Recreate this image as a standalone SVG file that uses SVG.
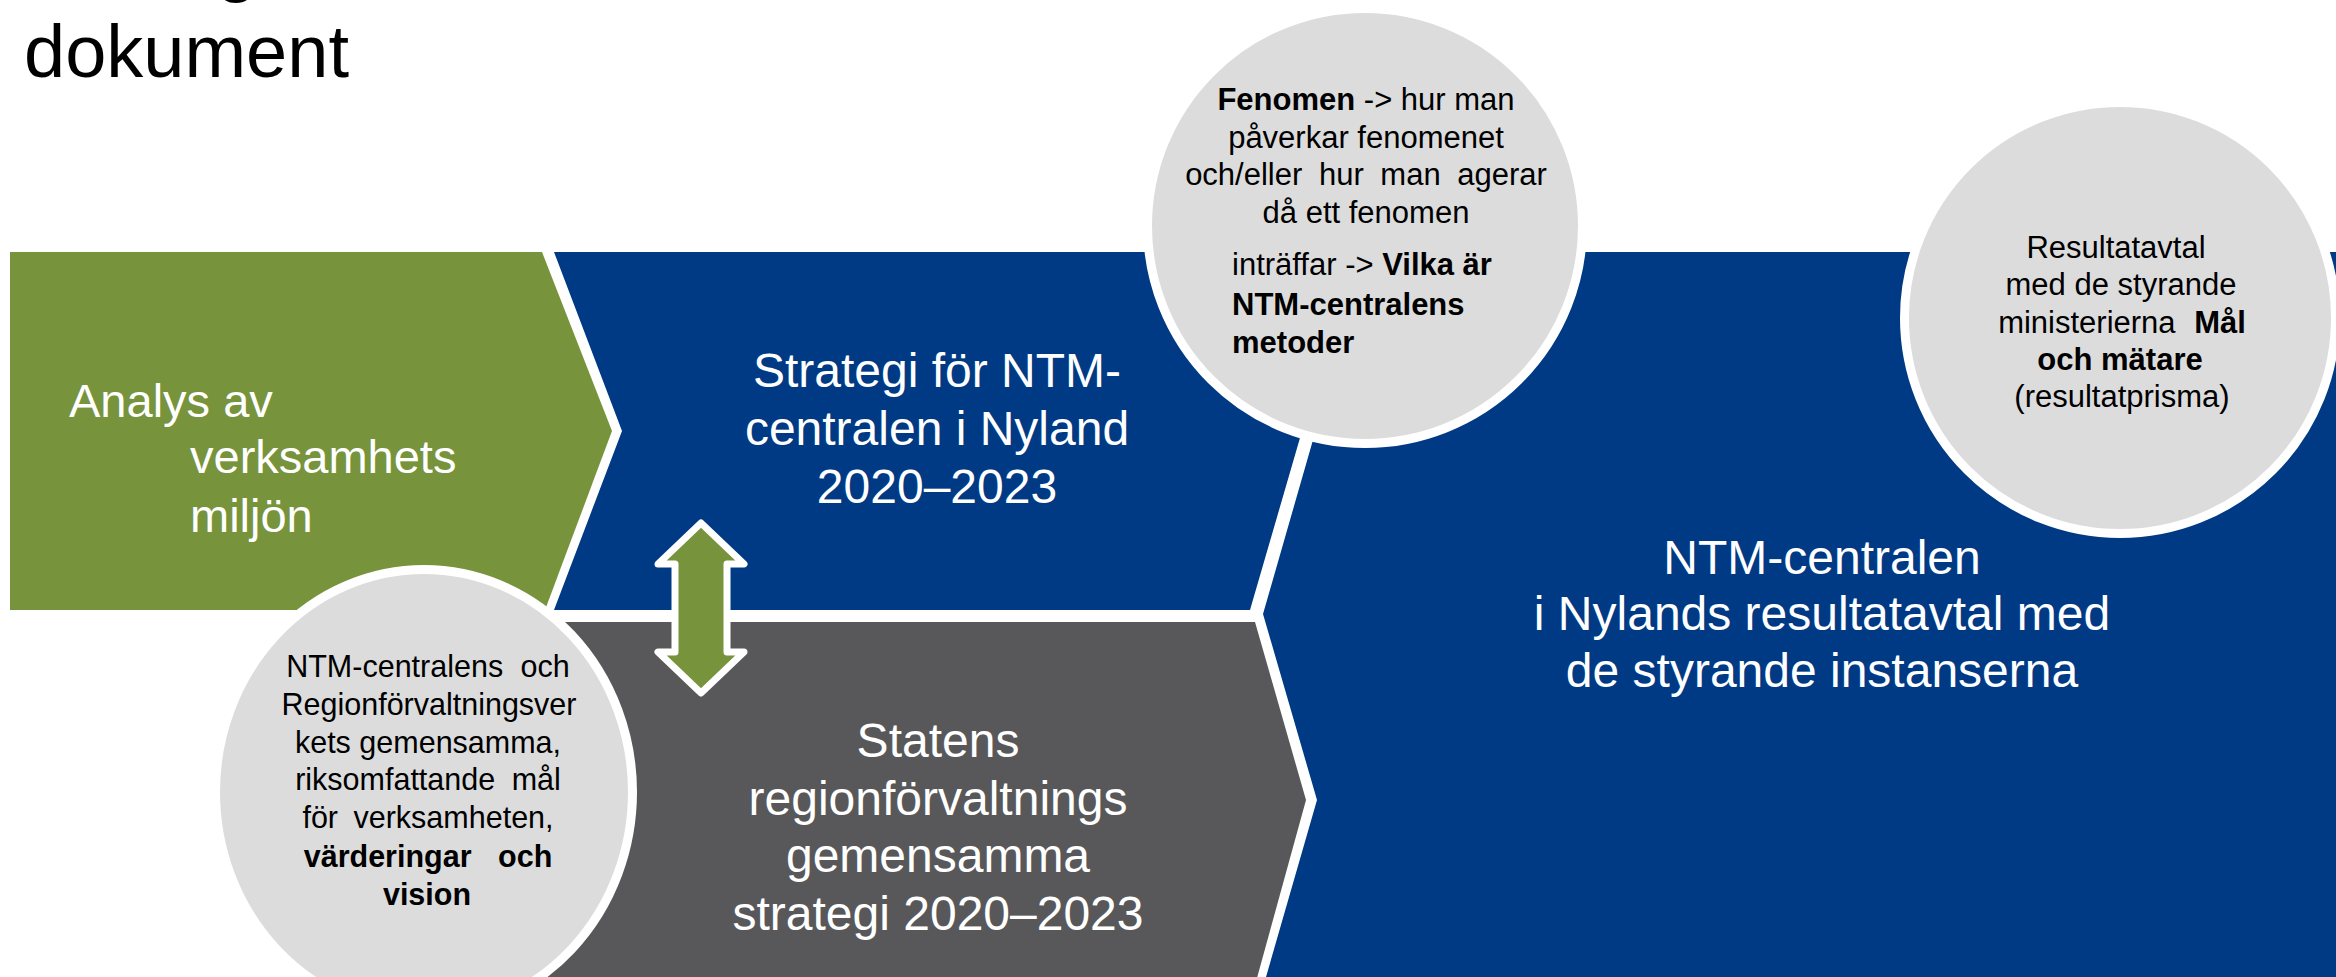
<svg xmlns="http://www.w3.org/2000/svg" width="2336" height="977" viewBox="0 0 2336 977">
<style>
text{font-family:"Liberation Sans",Arial,sans-serif}
.title{font-size:74px;fill:#000}
.big{font-size:48px;fill:#fff;text-anchor:middle}
.lbl{font-size:47px;fill:#fff}
.ct{font-size:31px;fill:#000;text-anchor:middle}
.cl{font-size:31px;fill:#000}
.lc{font-size:30.5px;fill:#000;text-anchor:middle}
.bold{font-weight:bold}
.disc{fill:#DCDCDC;stroke:#fff;stroke-width:9}
.blue{fill:#003A84}
.green{fill:#77933C}
.gray{fill:#58585A}
</style>
<rect x="0" y="0" width="2336" height="977" fill="#fff"/>
<g id="title">
<text class="title" x="216" y="-12">g</text>
<text class="title" x="24" y="77">dokument</text>
</g>
<g id="resultatavtal-node">
<polygon class="blue" points="1367,252 2336,252 2336,977 1266,977 1317,800 1263,614"/>
<text class="big"><tspan x="1822" y="574">NTM-centralen</tspan><tspan x="1822" y="630">i Nylands resultatavtal med</tspan><tspan x="1822" y="687">de styrande instanserna</tspan></text>
</g>
<g id="analys-node">
<polygon class="green" points="10,252 542,252 612,431 545,610 10,610"/>
<text class="lbl"><tspan x="69" y="417">Analys av</tspan><tspan x="190" y="473">verksamhets</tspan><tspan x="190" y="532">miljön</tspan></text>
</g>
<g id="strategi-node">
<polygon class="blue" points="554,252 1250,252 1302,431 1250,610 554,610 622,431"/>
<text class="big"><tspan x="937" y="387">Strategi för NTM-</tspan><tspan x="937" y="445">centralen i Nyland</tspan><tspan x="937" y="503">2020–2023</tspan></text>
</g>
<g id="statens-node">
<polygon class="gray" points="545,622 1255,622 1306,800 1257,978 545,978"/>
<text class="big"><tspan x="938" y="757">Statens</tspan><tspan x="938" y="815">regionförvaltnings</tspan><tspan x="938" y="872">gemensamma</tspan><tspan x="938" y="930">strategi 2020–2023</tspan></text>
</g>
<g id="connectors">
<path d="M701,523 L744,564 L727,564 L727,652 L744,652 L701,693 L658,652 L675,652 L675,564 L658,564 Z" class="green" stroke="#fff" stroke-width="7" stroke-linejoin="round"/>
</g>
<g id="fenomen-node">
<circle class="disc" cx="1365" cy="226" r="217.5"/>
<text class="ct" x="1366" y="110"><tspan class="bold">Fenomen</tspan> -&gt; hur man</text>
<text class="ct" x="1366" y="148">påverkar fenomenet</text>
<text class="ct" x="1366" y="185" word-spacing="8">och/eller hur man agerar</text>
<text class="ct" x="1366" y="223">då ett fenomen</text>
<text class="cl" x="1232" y="275">inträffar -&gt; <tspan class="bold">Vilka är</tspan></text>
<text class="cl bold" x="1232" y="315">NTM-centralens</text>
<text class="cl bold" x="1232" y="353">metoder</text>
</g>
<g id="resultat-circle-node">
<circle class="disc" cx="2120" cy="318" r="215.5"/>
<text class="ct" x="2116" y="258">Resultatavtal</text>
<text class="ct" x="2121" y="295">med de styrande</text>
<text class="ct" x="2122" y="333" word-spacing="10">ministerierna <tspan class="bold">Mål</tspan></text>
<text class="ct bold" x="2120" y="370">och mätare</text>
<text class="ct" x="2122" y="407">(resultatprisma)</text>
</g>
<g id="gemensamma-mal-node">
<ellipse class="disc" cx="424" cy="792" rx="208.5" ry="222.5"/>
<text class="lc" x="428" y="677" word-spacing="9">NTM-centralens och</text>
<text class="lc" x="429" y="715">Regionförvaltningsver</text>
<text class="lc" x="428" y="753">kets gemensamma,</text>
<text class="lc" x="428" y="790" word-spacing="8">riksomfattande mål</text>
<text class="lc" x="428" y="828" word-spacing="7">för verksamheten,</text>
<text class="lc bold" x="428" y="867" word-spacing="18">värderingar och</text>
<text class="lc bold" x="427" y="905">vision</text>
</g>
</svg>
